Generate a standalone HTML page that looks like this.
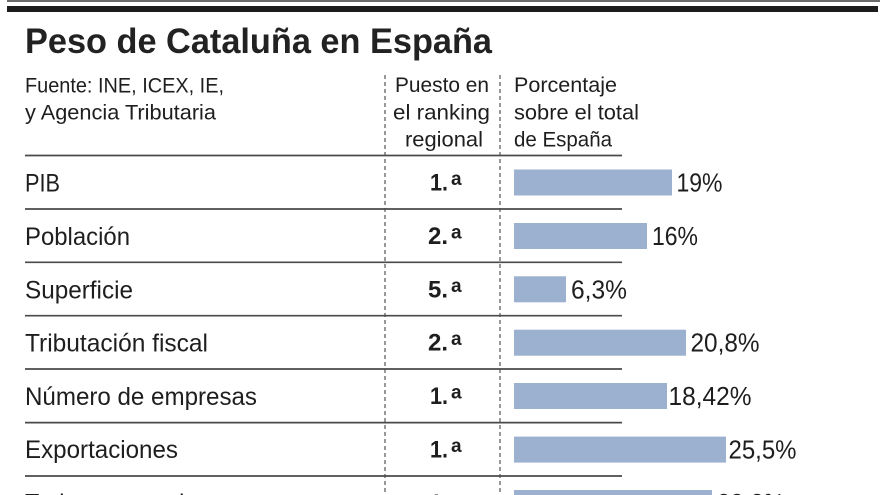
<!DOCTYPE html>
<html>
<head>
<meta charset="utf-8">
<style>
html,body{margin:0;padding:0;background:#fff;}
svg{display:block;}
text{font-family:"Liberation Sans",sans-serif;fill:#1e1e1e;}
</style>
</head>
<body>
<svg width="880" height="495" viewBox="0 0 880 495" xmlns="http://www.w3.org/2000/svg">
  <rect x="0" y="0" width="880" height="495" fill="#ffffff"/>
  <!-- top rules -->
  <rect x="7" y="0" width="873" height="2" fill="#6a6a6a"/>
  <rect x="7" y="6" width="871" height="6" fill="#1c1c1c"/>

  <!-- title -->
  <text x="25" y="53" font-size="35" font-weight="bold" textLength="467" lengthAdjust="spacingAndGlyphs" style="fill:#222">Peso de Cataluña en España</text>

  <!-- header -->
  <g font-size="21.5">
    <text x="25" y="92.5" textLength="199" lengthAdjust="spacingAndGlyphs">Fuente: INE, ICEX, IE,</text>
    <text x="25" y="119.5" textLength="191" lengthAdjust="spacingAndGlyphs">y Agencia Tributaria</text>
    <text x="395" y="92" textLength="94" lengthAdjust="spacingAndGlyphs">Puesto en</text>
    <text x="393" y="119.5" textLength="97" lengthAdjust="spacingAndGlyphs">el ranking</text>
    <text x="405" y="146.5" textLength="78" lengthAdjust="spacingAndGlyphs">regional</text>
    <text x="514" y="92" textLength="103" lengthAdjust="spacingAndGlyphs">Porcentaje</text>
    <text x="514" y="119.5" textLength="125" lengthAdjust="spacingAndGlyphs">sobre el total</text>
    <text x="514" y="146.5" textLength="98" lengthAdjust="spacingAndGlyphs">de España</text>
  </g>

  <!-- dashed vertical lines -->
  <line x1="385" y1="75" x2="385" y2="495" stroke="#555" stroke-width="1.2" stroke-dasharray="4 3"/>
  <line x1="500" y1="75" x2="500" y2="495" stroke="#555" stroke-width="1.2" stroke-dasharray="4 3"/>

  <!-- row separators -->
  <g stroke="#4a4a4a" stroke-width="1.7">
    <line x1="25" y1="155.5" x2="622" y2="155.5"/>
    <line x1="25" y1="209" x2="622" y2="209"/>
    <line x1="25" y1="262.3" x2="622" y2="262.3"/>
    <line x1="25" y1="315.7" x2="622" y2="315.7"/>
    <line x1="25" y1="369" x2="622" y2="369"/>
    <line x1="25" y1="422.6" x2="622" y2="422.6"/>
    <line x1="25" y1="476" x2="622" y2="476"/>
  </g>

  <!-- bars -->
  <g fill="#9cb0cf">
    <rect x="514" y="169.5" width="158" height="26"/>
    <rect x="514" y="223" width="133" height="26"/>
    <rect x="514" y="276.3" width="52" height="26"/>
    <rect x="514" y="329.7" width="172" height="26"/>
    <rect x="514" y="383" width="153" height="26"/>
    <rect x="514" y="436.6" width="212" height="26"/>
    <rect x="514" y="490" width="198" height="26"/>
  </g>

  <!-- row labels -->
  <g font-size="25">
    <text x="25" y="191.5" textLength="35" lengthAdjust="spacingAndGlyphs">PIB</text>
    <text x="25" y="245" textLength="105" lengthAdjust="spacingAndGlyphs">Población</text>
    <text x="25" y="298.3" textLength="108" lengthAdjust="spacingAndGlyphs">Superficie</text>
    <text x="25" y="351.7" textLength="183" lengthAdjust="spacingAndGlyphs">Tributación fiscal</text>
    <text x="25" y="405" textLength="232" lengthAdjust="spacingAndGlyphs">Número de empresas</text>
    <text x="25" y="458" textLength="153" lengthAdjust="spacingAndGlyphs">Exportaciones</text>
    <text x="25" y="511.5" textLength="205" lengthAdjust="spacingAndGlyphs">Turistas extranjeros</text>
  </g>

  <!-- ranking -->
  <g font-weight="bold">
    <text x="430" y="190.5" font-size="24" textLength="18" lengthAdjust="spacingAndGlyphs">1.</text>
    <text x="451" y="185" font-size="19">a</text>
    <text x="428" y="244" font-size="24" textLength="20" lengthAdjust="spacingAndGlyphs">2.</text>
    <text x="451" y="238.5" font-size="19">a</text>
    <text x="428" y="297.3" font-size="24" textLength="20" lengthAdjust="spacingAndGlyphs">5.</text>
    <text x="451" y="291.8" font-size="19">a</text>
    <text x="428" y="350.7" font-size="24" textLength="20" lengthAdjust="spacingAndGlyphs">2.</text>
    <text x="451" y="345.2" font-size="19">a</text>
    <text x="430" y="404" font-size="24" textLength="18" lengthAdjust="spacingAndGlyphs">1.</text>
    <text x="451" y="398.5" font-size="19">a</text>
    <text x="430" y="457.6" font-size="24" textLength="18" lengthAdjust="spacingAndGlyphs">1.</text>
    <text x="451" y="452.1" font-size="19">a</text>
    <text x="430" y="511" font-size="24" textLength="18" lengthAdjust="spacingAndGlyphs">1.</text>
    <text x="451" y="505.5" font-size="19">a</text>
  </g>

  <!-- values -->
  <g font-size="26">
    <text x="676.5" y="191.5" textLength="46" lengthAdjust="spacingAndGlyphs">19%</text>
    <text x="652" y="245" textLength="46" lengthAdjust="spacingAndGlyphs">16%</text>
    <text x="571" y="298.3" textLength="56" lengthAdjust="spacingAndGlyphs">6,3%</text>
    <text x="690.5" y="351.7" textLength="69" lengthAdjust="spacingAndGlyphs">20,8%</text>
    <text x="668.5" y="405" textLength="83" lengthAdjust="spacingAndGlyphs">18,42%</text>
    <text x="728.5" y="458.4" textLength="68" lengthAdjust="spacingAndGlyphs">25,5%</text>
    <text x="717" y="512" textLength="68" lengthAdjust="spacingAndGlyphs">23,2%</text>
  </g>
</svg>
</body>
</html>
